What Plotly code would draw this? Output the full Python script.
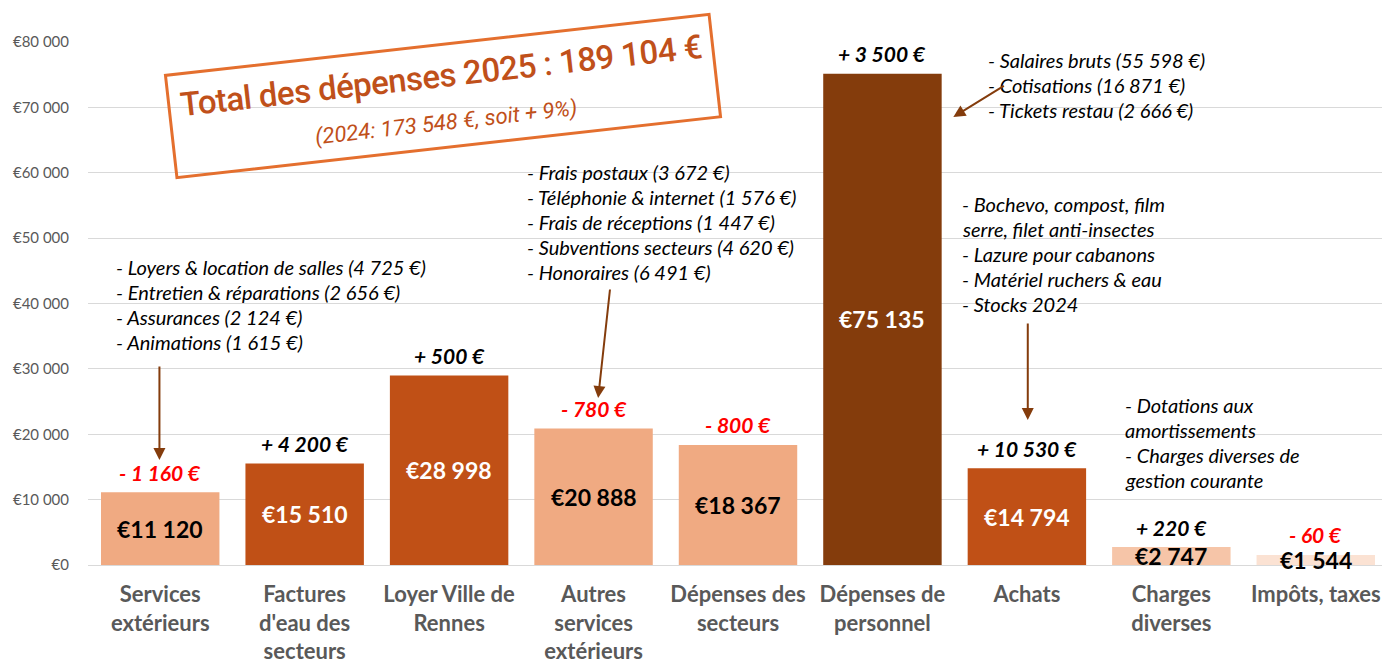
import plotly.graph_objects as go

# ---- data ----
categories = ["Services<br>extérieurs", "Factures<br>d'eau des<br>secteurs", "Loyer Ville de<br>Rennes",
              "Autres<br>services<br>extérieurs", "Dépenses des<br>secteurs", "Dépenses de<br>personnel",
              "Achats", "Charges<br>diverses", "Impôts, taxes"]
values = [11120, 15510, 28998, 20888, 18367, 75135, 14794, 2747, 1544]
changes = ["- 1 160 €", "+ 4 200 €", "+ 500 €", "- 780 €", "- 800 €", "+ 3 500 €", "+ 10 530 €", "+ 220 €", "- 60 €"]
change_values = [-1160, 4200, 500, -780, -800, 3500, 10530, 220, -60]
value_labels = ["€11 120", "€15 510", "€28 998", "€20 888", "€18 367", "€75 135", "€14 794", "€2 747", "€1 544"]
tick_vals = [0, 10000, 20000, 30000, 40000, 50000, 60000, 70000, 80000]
tick_text = ["€0", "€10 000", "€20 000", "€30 000", "€40 000", "€50 000", "€60 000", "€70 000", "€80 000"]

title_main = "Total des dépenses 2025 : 189 104 €"
title_sub = "(2024: 173 548 €, soit + 9%)"

notes_services = ["- Loyers & location de salles (4 725 €)", "- Entretien & réparations (2 656 €)",
                  "- Assurances (2 124 €)", "- Animations (1 615 €)"]
notes_autres = ["- Frais postaux (3 672 €)", "- Téléphonie & internet (1 576 €)", "- Frais de réceptions (1 447 €)",
                "- Subventions secteurs (4 620 €)", "- Honoraires (6 491 €)"]
notes_personnel = ["- Salaires bruts (55 598 €)", "- Cotisations (16 871 €)", "- Tickets restau (2 666 €)"]
notes_achats = ["- Bochevo, compost, film", "serre, filet anti-insectes", "- Lazure pour cabanons",
                "- Matériel ruchers & eau", "- Stocks 2024"]
notes_charges = ["- Dotations aux", "amortissements", "- Charges diverses de", "gestion courante"]

# ---- styles ----
LIGHT = "#F0AA82"
DARK = "#C05016"
DARKEST = "#843C0C"
LIGHTER = "#F6C5A8"
LIGHTEST = "#FBE2D3"
bar_colors = [LIGHT, DARK, DARK, LIGHT, LIGHT, DARKEST, DARK, LIGHTER, LIGHTEST]
label_colors = ["black", "white", "white", "black", "black", "white", "white", "black", "black"]
FONT = "Lato, Carlito, 'Open Sans', sans-serif"
TITLE_FONT = "Roboto, 'DejaVu Sans', sans-serif"

# page body has an 8px margin: reference pixel coords -> figure coords
OFF = 8
X0, X1, Y0, Y1 = 88, 1380, 565, 42   # plot area in reference pixels
n = len(categories)
def px_x(px):
    return (px - X0) / ((X1 - X0) / n) - 0.5
def px_y(py):
    return (Y0 - py) / (Y0 - Y1) * 80000

idx = list(range(n))
fig = go.Figure()
fig.add_trace(go.Bar(x=idx, y=values, marker=dict(color=bar_colors, line=dict(width=0)),
                     hoverinfo="skip"))

annotations = []
for i, v in enumerate(values):
    annotations.append(dict(x=i, y=v / 2, xref="x", yref="y", text="<b>%s</b>" % value_labels[i],
                            showarrow=False, font=dict(family=FONT, size=23, color=label_colors[i])))
for i, v in enumerate(values):
    col = "#FF0000" if change_values[i] < 0 else "black"
    annotations.append(dict(x=i, y=v, xref="x", yref="y", text="<b><i>%s</i></b>" % changes[i],
                            showarrow=False, yanchor="middle", yshift=20,
                            font=dict(family=FONT, size=21, color=col)))

def add_notes(lines, left_px, first_center_py, spacing=25):
    for k, t in enumerate(lines):
        annotations.append(dict(x=px_x(left_px), y=px_y(first_center_py + k * spacing), xref="x", yref="y",
                                text="<i>%s</i>" % t, showarrow=False, xanchor="left", yanchor="middle",
                                font=dict(family=FONT, size=20, color="black")))

add_notes(notes_services, 114, 267)
add_notes(notes_autres, 522, 172)
add_notes(notes_personnel, 980, 60)
add_notes(notes_achats, 955, 204)
add_notes(notes_charges, 1117, 405)

ARROW = "#843C0C"
def add_arrow(head_px, head_py, tail_px, tail_py):
    annotations.append(dict(x=px_x(head_px), y=px_y(head_py), xref="x", yref="y", text="",
                            showarrow=True, ax=tail_px - head_px, ay=tail_py - head_py,
                            arrowhead=2, arrowsize=1.2, arrowwidth=2, arrowcolor=ARROW))

add_arrow(159, 460, 159, 365)
add_arrow(595, 398, 607, 288)
add_arrow(948, 117, 1000, 85)
add_arrow(1022, 420, 1022, 322)

annotations.append(dict(x=px_x(441), y=px_y(96), xref="x", yref="y",
                        text=("<span style='font-size:33px;font-weight:500;letter-spacing:-0.5px'>%s</span><br>"
                              "<span style='font-size:22px'><i>%s</i></span>")
                             % (title_main, title_sub),
                        showarrow=False, textangle=-6.4, align="center",
                        font=dict(family=TITLE_FONT, size=33, color="#C0501A"),
                        bordercolor="#E46F2E", borderwidth=3, borderpad=10, bgcolor="rgba(255,255,255,0)"))

fig.update_layout(
    width=1390 - OFF, height=663 - OFF,
    margin=dict(l=X0 - OFF, r=1390 - OFF - X1, t=Y1 - OFF, b=663 - Y0),
    paper_bgcolor="white", plot_bgcolor="white",
    showlegend=False,
    bargap=0.18,
    annotations=annotations,
    xaxis=dict(tickmode="array", tickvals=idx, ticktext=categories, range=[-0.5, n - 0.5],
               tickfont=dict(family=FONT, size=22, color="#595959", weight="bold"), showgrid=False,
               ticks="", showline=False, ticklabelstandoff=14, fixedrange=True, tickangle=0,
               automargin=False),
    yaxis=dict(range=[0, 80000], tickmode="array", tickvals=tick_vals, ticktext=tick_text,
               tickfont=dict(family=FONT, size=15, color="#595959"), gridcolor="#D9D9D9",
               gridwidth=1, zeroline=True, zerolinecolor="#D9D9D9", zerolinewidth=1,
               ticklabelstandoff=18, fixedrange=True, automargin=False),
)

fig.write_html("out.html")
